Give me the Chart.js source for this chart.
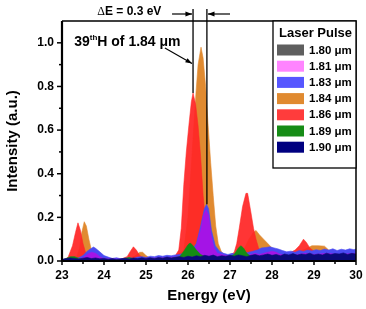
<!DOCTYPE html>
<html><head><meta charset="utf-8">
<script src="https://cdn.jsdelivr.net/npm/chart.js@4"></script>
<style>html,body{margin:0;padding:0;background:#fff}canvas{display:block}</style>
</head><body>
<canvas id="c" width="366" height="309"></canvas>
<script>
// ---------------- DATA ----------------
const seriesLabels = ['1.80 \u03bcm','1.81 \u03bcm','1.83 \u03bcm','1.84 \u03bcm','1.86 \u03bcm','1.89 \u03bcm','1.90 \u03bcm'];
const xTickLabels = ['23','24','25','26','27','28','29','30'];
const yTickLabels = ['0.0','0.2','0.4','0.6','0.8','1.0'];

// 1.80 um
const e180 = [23.0,23.5,24.0,24.5,25.0,25.5,26.1,26.4,26.8,27.3,27.8,28.3,28.8,29.3,30.0];
const i180 = [0.004,0.006,0.006,0.007,0.008,0.01,0.02,0.015,0.012,0.014,0.016,0.018,0.018,0.02,0.02];

// 1.81 um
const e181 = [23.0,23.3,23.5,23.6,23.7,23.8,23.9,24.0,24.5,25.0,25.5,25.8,26.0,26.1,26.2,26.3,26.37,26.43,26.49,26.55,26.62,26.7,26.9,27.2,27.4,27.5,27.6,27.7,27.8,27.9,28.0,28.1,28.2,28.4,28.6,28.8,29.0,29.3,29.6,30.0];
const i181 = [0.0,0.005,0.015,0.03,0.04,0.035,0.02,0.01,0.008,0.012,0.015,0.02,0.03,0.04,0.07,0.14,0.21,0.235,0.21,0.12,0.06,0.035,0.025,0.02,0.025,0.03,0.035,0.03,0.035,0.04,0.045,0.04,0.03,0.025,0.03,0.035,0.03,0.035,0.03,0.035];

// 1.83 um
const e183 = [23.0,23.2,23.4,23.5,23.6,23.7,23.75,23.8,23.9,24.0,24.1,24.2,24.3,24.4,24.5,24.6,24.7,24.8,24.9,25.0,25.1,25.2,25.3,25.4,25.5,25.6,25.7,25.8,25.9,26.0,26.1,26.2,26.3,26.39,26.44,26.49,26.56,26.65,26.75,26.85,26.95,27.05,27.15,27.25,27.35,27.45,27.55,27.65,27.75,27.85,27.95,28.05,28.15,28.25,28.35,28.45,28.55,28.65,28.75,28.85,28.95,29.05,29.15,29.25,29.35,29.45,29.55,29.65,29.75,29.85,29.95,30.0];
const i183 = [0.005,0.01,0.015,0.025,0.045,0.058,0.064,0.058,0.042,0.025,0.018,0.012,0.015,0.01,0.012,0.015,0.012,0.018,0.02,0.016,0.022,0.02,0.025,0.022,0.026,0.024,0.028,0.03,0.035,0.04,0.05,0.08,0.16,0.24,0.26,0.24,0.14,0.07,0.045,0.035,0.03,0.035,0.03,0.04,0.035,0.04,0.045,0.05,0.06,0.062,0.065,0.06,0.055,0.048,0.042,0.045,0.04,0.048,0.044,0.05,0.046,0.052,0.048,0.055,0.05,0.056,0.048,0.054,0.05,0.056,0.052,0.055];

// 1.84 um
const e184 = [23.0,23.2,23.35,23.42,23.47,23.53,23.58,23.64,23.7,23.78,23.9,24.2,24.6,24.75,24.85,24.92,25.0,25.1,25.5,25.7,25.9,26.0,26.1,26.19,26.24,26.31,26.36,26.42,26.48,26.54,26.6,26.66,26.72,26.8,26.9,27.0,27.2,27.35,27.45,27.55,27.62,27.7,27.8,27.9,28.0,28.1,28.3,28.6,28.8,28.95,29.1,29.25,29.35,29.5,29.8,30.0];
const i184 = [0.005,0.01,0.02,0.06,0.13,0.18,0.16,0.1,0.05,0.025,0.012,0.008,0.01,0.025,0.04,0.04,0.025,0.012,0.012,0.02,0.05,0.2,0.5,0.77,0.9,0.98,0.93,0.8,0.62,0.45,0.3,0.16,0.08,0.04,0.025,0.02,0.03,0.06,0.1,0.13,0.14,0.12,0.1,0.08,0.06,0.045,0.035,0.04,0.055,0.07,0.07,0.068,0.05,0.035,0.025,0.02];

// 1.86 um
const e186 = [23.0,23.1,23.15,23.25,23.32,23.38,23.44,23.5,23.56,23.65,23.8,24.0,24.4,24.55,24.63,24.7,24.77,24.85,25.0,25.4,25.6,25.7,25.78,25.84,25.9,25.96,26.02,26.08,26.12,26.18,26.24,26.3,26.36,26.44,26.52,26.62,26.8,27.0,27.1,27.16,27.22,27.3,27.38,27.42,27.5,27.56,27.62,27.68,27.78,28.0,28.4,28.55,28.65,28.75,28.82,28.9,29.0,29.2,29.5,30.0];
const i186 = [0.005,0.01,0.02,0.07,0.13,0.175,0.14,0.08,0.04,0.02,0.01,0.008,0.008,0.02,0.045,0.065,0.05,0.025,0.01,0.01,0.015,0.025,0.05,0.15,0.35,0.5,0.62,0.73,0.77,0.72,0.62,0.48,0.3,0.14,0.07,0.035,0.025,0.025,0.04,0.08,0.15,0.25,0.31,0.31,0.22,0.15,0.1,0.06,0.035,0.03,0.035,0.05,0.07,0.1,0.085,0.06,0.045,0.03,0.02,0.015];

// 1.89 um
const e189 = [23.0,23.1,23.2,23.3,23.4,23.5,24.0,24.4,24.5,24.6,24.7,24.8,25.5,25.8,25.9,26.0,26.05,26.1,26.2,26.3,26.4,26.6,26.9,27.1,27.2,27.26,27.32,27.4,27.5,27.7,28.0,28.5,29.0,30.0];
const i189 = [0.005,0.012,0.02,0.02,0.012,0.006,0.004,0.005,0.012,0.016,0.01,0.005,0.006,0.02,0.045,0.075,0.082,0.075,0.05,0.03,0.02,0.012,0.012,0.03,0.06,0.07,0.06,0.035,0.02,0.012,0.012,0.015,0.01,0.01];

// 1.90 um
const e190 = [23.0,23.1,23.2,23.3,23.4,23.5,23.6,23.7,23.8,23.9,24.0,24.1,24.2,24.3,24.4,24.5,24.6,24.7,24.8,24.9,25.0,25.1,25.2,25.3,25.4,25.5,25.6,25.7,25.8,25.9,26.0,26.1,26.2,26.3,26.4,26.5,26.6,26.7,26.8,26.9,27.0,27.1,27.2,27.3,27.4,27.5,27.6,27.7,27.8,27.9,28.0,28.1,28.2,28.3,28.4,28.5,28.6,28.7,28.8,28.9,29.0,29.1,29.2,29.3,29.4,29.5,29.6,29.7,29.8,29.9,30.0];
const i190 = [0.008,0.011,0.014,0.012,0.009,0.013,0.016,0.011,0.014,0.01,0.012,0.008,0.011,0.007,0.01,0.013,0.009,0.014,0.011,0.015,0.012,0.015,0.011,0.016,0.013,0.018,0.014,0.017,0.02,0.016,0.022,0.018,0.024,0.02,0.026,0.022,0.027,0.02,0.024,0.022,0.026,0.022,0.028,0.024,0.02,0.026,0.03,0.024,0.028,0.032,0.026,0.03,0.024,0.032,0.028,0.034,0.027,0.032,0.03,0.036,0.028,0.032,0.028,0.036,0.03,0.034,0.032,0.037,0.03,0.035,0.032];

// annotation text
const deltaLabel = 'E = 0.3 eV';
const harmonicLabel = ['39', 'th', 'H of 1.84 \u03bcm'];
const legendTitle = 'Laser Pulse';

// ---------------- STYLE ----------------
const fillColors = ['#5a5a5a','#a414e6','#4a4af2','#e08a30','rgba(255,38,38,0.93)','#148c14','#0a0a78'];
const legendColors = ['#5f5f5f','#ff84ff','#5656ff','#e08a30','#ff3c3c','#168c16','#000080'];
const drawOrder = [2,4,5,7,6,3,1];

const energies = [e180,e181,e183,e184,e186,e189,e190];
const intensities = [i180,i181,i183,i184,i186,i189,i190];

const datasets = seriesLabels.map((lab, k) => ({
  label: lab,
  data: energies[k].map((e, j) => ({x: e, y: intensities[k][j]})),
  backgroundColor: fillColors[k],
  borderColor: fillColors[k],
  borderWidth: 0.6,
  pointRadius: 0,
  fill: 'origin',
  tension: 0,
  order: drawOrder[k]
}));

function arrow(ctx, x1, y1, x2, y2, head) {
  ctx.beginPath(); ctx.moveTo(x1, y1); ctx.lineTo(x2, y2); ctx.stroke();
  const a = Math.atan2(y2 - y1, x2 - x1);
  ctx.beginPath();
  ctx.moveTo(x2, y2);
  ctx.lineTo(x2 - head * Math.cos(a - 0.35), y2 - head * Math.sin(a - 0.35));
  ctx.lineTo(x2 - head * Math.cos(a + 0.35), y2 - head * Math.sin(a + 0.35));
  ctx.closePath(); ctx.fill();
}

function zeroPad(s) { s.paddingLeft = 0; s.paddingRight = 0; s.paddingTop = 0; s.paddingBottom = 0; }

const decor = {
  id: 'decor',
  afterDatasetsDraw(chart) {
    const {ctx, chartArea: ca, scales: {x, y}} = chart;
    ctx.save();
    ctx.strokeStyle = '#000'; ctx.fillStyle = '#000';
    ctx.lineWidth = 1.5;
    ctx.beginPath();
    ctx.moveTo(ca.left, ca.top); ctx.lineTo(ca.right, ca.top); ctx.lineTo(ca.right, ca.bottom);
    ctx.stroke();
    ctx.lineWidth = 2.2;
    ctx.beginPath();
    ctx.moveTo(ca.left, ca.top); ctx.lineTo(ca.left, ca.bottom); ctx.lineTo(ca.right, ca.bottom);
    ctx.stroke();
    ctx.lineWidth = 1.5;
    for (let v = 0; v <= 10; v++) {
      const py = y.getPixelForValue(v / 10);
      const len = v % 2 === 0 ? 5 : 3;
      ctx.beginPath(); ctx.moveTo(ca.left, py); ctx.lineTo(ca.left - len, py); ctx.stroke();
    }
    for (let v = 0; v <= 14; v++) {
      const px = x.getPixelForValue(23 + v / 2);
      const len = v % 2 === 0 ? 4 : 3;
      ctx.beginPath(); ctx.moveTo(px, ca.bottom); ctx.lineTo(px, ca.bottom + len); ctx.stroke();
    }
    ctx.restore();
  },
  afterDraw(chart) {
    const {ctx, chartArea: ca, scales: {x, y}} = chart;
    ctx.save();
    ctx.strokeStyle = '#000'; ctx.fillStyle = '#000';
    ctx.lineWidth = 1.3;
    const l1 = x.getPixelForValue(26.12), l2 = x.getPixelForValue(26.45);
    const top = 9;
    ctx.beginPath(); ctx.moveTo(l1, top); ctx.lineTo(l1, y.getPixelForValue(0.77)); ctx.stroke();
    ctx.beginPath(); ctx.moveTo(l2, top); ctx.lineTo(l2, y.getPixelForValue(0.26)); ctx.stroke();
    ctx.lineWidth = 1.2;
    arrow(ctx, x.getPixelForValue(25.62), 14, l1 - 1, 14, 7);
    arrow(ctx, x.getPixelForValue(27.0), 14, l2 + 1, 14, 7);
    ctx.textBaseline = 'alphabetic';
    ctx.font = '12px "Liberation Serif"';
    const dx = x.getPixelForValue(23.84);
    ctx.fillText('\u0394', dx, 15);
    const dw = ctx.measureText('\u0394').width;
    ctx.font = 'bold 12px "Liberation Sans", Arial';
    ctx.fillText(deltaLabel, dx + dw, 15);
    let hx = x.getPixelForValue(23.29), hy = 46;
    ctx.font = 'bold 14px "Liberation Sans", Arial';
    ctx.fillText(harmonicLabel[0], hx, hy); hx += ctx.measureText(harmonicLabel[0]).width;
    ctx.font = 'bold 8px "Liberation Sans", Arial';
    ctx.fillText(harmonicLabel[1], hx, hy - 6); hx += ctx.measureText(harmonicLabel[1]).width;
    ctx.font = 'bold 14px "Liberation Sans", Arial';
    ctx.fillText(harmonicLabel[2], hx, hy);
    ctx.lineWidth = 1.2;
    arrow(ctx, x.getPixelForValue(25.45), y.getPixelForValue(0.976), l1 - 1, y.getPixelForValue(0.905), 7);
    const bx = 273, by = ca.top, bw = ca.right - 273, bh = 168 - ca.top;
    ctx.fillStyle = '#fff';
    ctx.fillRect(bx, by, bw, bh);
    ctx.strokeStyle = '#000'; ctx.lineWidth = 1.3;
    ctx.strokeRect(bx, by, bw, bh);
    ctx.fillStyle = '#000';
    ctx.font = 'bold 13px "Liberation Sans", Arial';
    ctx.textAlign = 'center'; ctx.textBaseline = 'middle';
    ctx.fillText(legendTitle, bx + bw / 2 + 1, 33);
    ctx.textAlign = 'left';
    ctx.font = 'bold 11.5px "Liberation Sans", Arial';
    seriesLabels.forEach((lab, k) => {
      const cy = 50 + k * 16.2;
      ctx.fillStyle = legendColors[k];
      ctx.fillRect(277, cy - 5.5, 27, 11);
      ctx.fillStyle = '#000';
      ctx.fillText(lab, 309, cy + 0.5);
    });
    ctx.restore();
  }
};

new Chart(document.getElementById('c'), {
  type: 'line',
  data: {datasets},
  options: {
    responsive: false,
    devicePixelRatio: 1,
    animation: false,
    layout: {padding: {left: 0, top: 21, right: 10, bottom: 0}},
    plugins: {legend: {display: false}, tooltip: {enabled: false}},
    scales: {
      x: {
        type: 'linear', min: 23, max: 30,
        grid: {display: false, drawTicks: false},
        border: {display: false},
        afterFit: s => { s.height = 48; zeroPad(s); },
        ticks: {
          stepSize: 1, padding: 7, color: '#000', maxRotation: 0,
          font: {family: '"Liberation Sans", Arial', weight: 'bold', size: 12},
          callback: v => { const t = xTickLabels.find(l => Number(l) === v); return t === undefined ? '' : t; }
        },
        title: {display: true, text: 'Energy (eV)', color: '#000', padding: {top: 4, bottom: 4},
          font: {family: '"Liberation Sans", Arial', weight: 'bold', size: 15}}
      },
      y: {
        type: 'linear', min: 0, max: 1.1,
        grid: {display: false, drawTicks: false},
        border: {display: false},
        afterFit: s => { s.width = 62; zeroPad(s); },
        ticks: {
          stepSize: 0.2, padding: 8, color: '#000',
          font: {family: '"Liberation Sans", Arial', weight: 'bold', size: 12},
          callback: v => { const t = yTickLabels.find(l => Math.abs(Number(l) - v) < 1e-6); return t === undefined ? '' : t; }
        },
        title: {display: true, text: 'Intensity (a.u.)', color: '#000', padding: {top: 4, bottom: 4},
          font: {family: '"Liberation Sans", Arial', weight: 'bold', size: 15}}
      }
    }
  },
  plugins: [decor]
});
</script>
</body></html>
